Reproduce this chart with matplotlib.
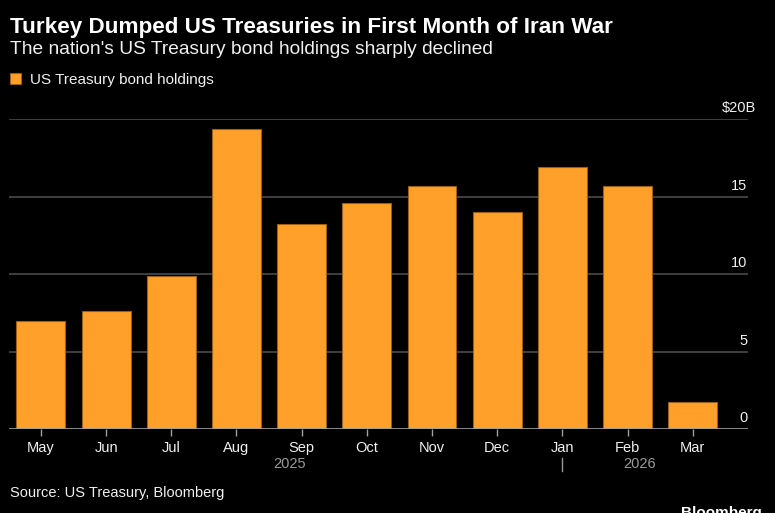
import matplotlib.pyplot as plt
import numpy as np

# Turkey's US Treasury bond holdings, $ billions
months = ['May', 'Jun', 'Jul', 'Aug', 'Sep', 'Oct', 'Nov', 'Dec', 'Jan', 'Feb', 'Mar']
holdings = [7.0, 7.65, 9.9, 19.4, 13.25, 14.6, 15.7, 14.0, 16.9, 15.7, 1.75]
years = ['2025', '2026']
yticks = [0, 5, 10, 15, 20]
ytick_labels = ['0', '5', '10', '15', '$20B']

orange = '#ffa02a'
plt.rcParams['font.family'] = ['Liberation Sans', 'DejaVu Sans']

fig = plt.figure(figsize=(7.75, 5.13), dpi=100, facecolor='black')
ax = fig.add_axes([9 / 775, 83.7 / 513, 738.5 / 775, 310 / 513])
ax.set_facecolor('black')

x = np.arange(len(months))
bars = ax.bar(x, holdings, width=0.75, color=orange, edgecolor='#9c5f14',
              linewidth=0.8, zorder=3, label='US Treasury bond holdings')

ax.set_xlim(-0.49, len(months) - 1 + 0.84)
ax.set_ylim(0, 20)

# gridlines
for v in yticks[1:]:
    ax.axhline(v, color='#4a4a4a', linewidth=1.2, zorder=1)
ax.axhline(0, color='#a0a0a0', linewidth=1.2, zorder=4)

for s in ax.spines.values():
    s.set_visible(False)

ax.set_yticks([])
ax.set_xticks(x)
ax.set_xticklabels(months, color='#f0f0f0', fontsize=10.5)
ax.tick_params(axis='x', length=5, width=1, color='#a0a0a0', pad=3.5)

# y labels sit above the gridlines on the right
ytrans = ax.get_yaxis_transform()
for v, lbl in zip(yticks, ytick_labels):
    dx = 6.5 if lbl.startswith('$') else 0
    ax.annotate(lbl, xy=(1, v), xycoords=ytrans, xytext=(dx, 5),
                textcoords='offset points', ha='right', va='baseline',
                color='#f0f0f0', fontsize=10.5)

# year labels and separator
xtrans = ax.get_xaxis_transform()
sep = months.index('Jan')
ax.text((-0.375 + sep) / 2, -0.112, years[0], transform=xtrans, ha='center',
        va='center', color='#999999', fontsize=10.5)
ax.text((sep + len(months) - 1 + 0.375) / 2, -0.112, years[1], transform=xtrans,
        ha='center', va='center', color='#999999', fontsize=10.5)
ax.plot([sep, sep], [-0.0926, -0.1345], transform=xtrans, color='#999999',
        linewidth=1, clip_on=False)

# titles
fig.text(10 / 775, 1 - 27.5 / 513, 'Turkey Dumped US Treasuries in First Month of Iran War',
         color='white', fontsize=16.2, fontweight='bold', va='center', ha='left')
fig.text(10 / 775, 1 - 50 / 513, "The nation's US Treasury bond holdings sharply declined",
         color='#f0f0f0', fontsize=13.8, va='center', ha='left')

leg = ax.legend(loc='upper left', bbox_to_anchor=(10 / 775, 1 - 73 / 513),
                bbox_transform=fig.transFigure, frameon=False, fontsize=11,
                handlelength=0.7, handleheight=0.7, handletextpad=0.6,
                borderaxespad=0, borderpad=0)
for t in leg.get_texts():
    t.set_color('#f0f0f0')

fig.text(10 / 775, 1 - 493 / 513, 'Source: US Treasury, Bloomberg',
         color='#f0f0f0', fontsize=10.5, va='center', ha='left')
fig.text(681 / 775, 1 - 506 / 513, 'Bloomberg', color='white', fontsize=11,
         fontweight='bold', va='top', ha='left')

fig.savefig('out.png', dpi=100, facecolor='black')
